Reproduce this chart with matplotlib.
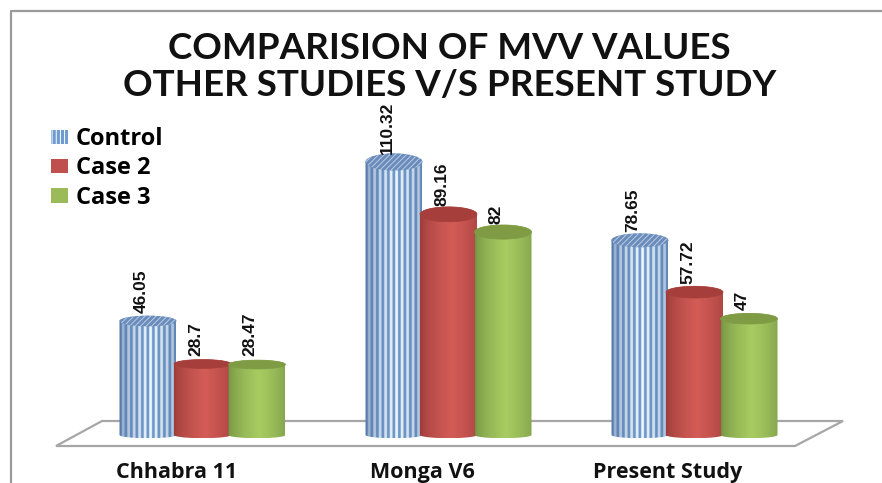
#!/usr/bin/env python3

import numpy as np
import matplotlib
matplotlib.use("Agg")
import matplotlib.pyplot as plt
from matplotlib.patches import Patch, PathPatch, Polygon
from matplotlib.path import Path
from matplotlib.lines import Line2D

STUDIES = ["Chhabra 11", "Monga V6", "Present Study"]
SERIES = ["Control", "Case 2", "Case 3"]
CONTROL = [46.05, 110.32, 78.65]
CASE_2 = [28.7, 89.16, 57.72]
CASE_3 = [28.47, 82, 47]
VALUE_LABELS = [["46.05", "110.32", "78.65"],
                ["28.7", "89.16", "57.72"],
                ["28.47", "82", "47"]]
TITLE = "COMPARISION OF MVV VALUES\nOTHER STUDIES V/S PRESENT STUDY"

W, H = 882, 483
PX_X = 246.0      # pixels per category
PX_Y = 2.475      # pixels per value unit
X0, Y0 = 202.5, 435
BAR_W = 57 / PX_X
BAR_STEP = 54.5 / PX_X


def shade(dark, light, n=120):
    # cylinder shading across the bar, brightest a bit right of the middle
    t = np.linspace(0, 1, n)
    k = np.clip(1 - np.abs(t - 0.55) / 0.55, 0, 1) ** 0.6
    dark, light = np.array(dark), np.array(light)
    return dark + (light - dark) * k[:, None]


def stripes(n=228):
    t = np.linspace(0, 1, n)
    k = np.clip(1 - np.abs(t - 0.55) / 0.55, 0, 1) ** 0.5
    on = (np.floor(t * 57 / 2.75) % 2 == 0)[:, None]
    blue = np.array([0.33, 0.46, 0.64]) + np.array([0.10, 0.14, 0.16]) * k[:, None]
    pale = np.array([0.42, 0.55, 0.72]) + np.array([0.52, 0.42, 0.27]) * k[:, None]
    return np.where(on, blue, pale)


def half_ellipse(xc, yc, a, b, start, stop, n=40):
    ang = np.linspace(start, stop, n)
    return np.column_stack([xc + a * np.cos(ang), yc + b * np.sin(ang)])


def draw_cylinder(ax, xc, value, body, top, top_hatch=False):
    a = BAR_W / 2
    b_top = (3 + value * 0.05) / PX_Y
    b_bot = 3.2 / PX_Y
    lower = half_ellipse(xc, 0, a, b_bot, np.pi, 2 * np.pi)
    upper = half_ellipse(xc, value, a, b_top, 0, np.pi)
    pts = np.vstack([lower, upper, lower[:1]])
    path = Path(pts)
    img = ax.imshow(body[None, :, :], extent=(xc - a, xc + a, -b_bot, value + b_top),
                    aspect="auto", interpolation="bilinear", zorder=3)
    img.set_clip_path(PathPatch(path, transform=ax.transData))
    cap = half_ellipse(xc, value, a, b_top, 0, 2 * np.pi, 80)
    if top_hatch:
        # hatch takes the edge colour, so the edge itself gets no width
        ax.add_patch(Polygon(cap, closed=True, facecolor=top, edgecolor="#b9cde6",
                             linewidth=0, hatch="//////", zorder=3.1))
    else:
        ax.add_patch(Polygon(cap, closed=True, facecolor=top, edgecolor=top,
                             linewidth=0.5, zorder=3.1))


def main():
    plt.rcParams["hatch.linewidth"] = 0.7
    fig = plt.figure(figsize=(W / 100, H / 100), dpi=100, facecolor="white")
    ax = fig.add_axes([0, 0, 1, 1])
    ax.axis("off")

    # floor, in axes fractions
    floor = [(56, 446), (102, 421), (843, 421), (795, 446)]
    ax.add_patch(Polygon([(x / W, 1 - y / H) for x, y in floor], closed=True,
                         transform=ax.transAxes, facecolor="white",
                         edgecolor="#a6a6a6", linewidth=1.6, zorder=1))
    # outer frame of the pasted slide
    fig.add_artist(Line2D([10.5 / W, 10.5 / W, 1], [0, 1 - 11 / H, 1 - 11 / H],
                          color="#9a9a9a", linewidth=1.6))

    bodies = [stripes(),
              shade((0.60, 0.23, 0.22), (0.83, 0.36, 0.34)),
              shade((0.45, 0.57, 0.26), (0.66, 0.80, 0.38))]
    tops = ["#6b8cba", "#a63f3b", "#7f9c45"]
    for s, values in enumerate([CONTROL, CASE_2, CASE_3]):
        for i, value in enumerate(values):
            xc = i + (s - 1) * BAR_STEP
            draw_cylinder(ax, xc, value, bodies[s], tops[s], top_hatch=s == 0)
            ax.annotate(VALUE_LABELS[s][i], (xc, value), xytext=(-5, 6),
                        textcoords="offset points", rotation=90, ha="center",
                        va="bottom", fontsize=12.5, fontweight="bold",
                        family="Liberation Sans", color="#111111", zorder=5)

    for i, name in enumerate(STUDIES):
        ax.annotate(name, (i, 0), xytext=(-19, -27), textcoords="offset points",
                    ha="center", va="center", fontsize=15.5, fontweight="bold",
                    family="Open Sans", color="#111111")

    ax.set_xlim(-X0 / PX_X, (W - X0) / PX_X)
    ax.set_ylim((Y0 - H) / PX_Y, Y0 / PX_Y)

    fig.text(449.5 / W, 1 - 67 / H, TITLE, ha="center", va="center", fontsize=26.5,
             fontweight="bold", family="Lato", color="#111111", linespacing=1.17)

    handles = [Patch(facecolor="#6f9bd0", edgecolor="white", hatch="||||", linewidth=0),
               Patch(facecolor="#c0504d", linewidth=0),
               Patch(facecolor="#9bbb59", linewidth=0)]
    ax.legend(handles, SERIES, loc="upper left", bbox_to_anchor=(51 / W, 1 - 127 / H),
              frameon=False, ncol=1, prop={"family": "Open Sans", "weight": "bold", "size": 17},
              handlelength=0.72, handleheight=0.55, handletextpad=0.34, labelspacing=0.23,
              borderpad=0, borderaxespad=0)

    fig.savefig("out.png", dpi=100)


if __name__ == "__main__":
    main()
